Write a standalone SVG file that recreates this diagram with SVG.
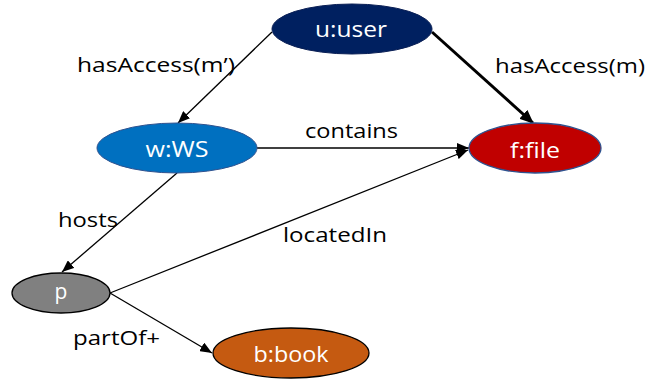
<svg xmlns="http://www.w3.org/2000/svg" width="647" height="379" viewBox="0 0 647 379">
<defs>
<marker id="ah" viewBox="0 0 12 10" refX="12" refY="5" markerWidth="12" markerHeight="10" markerUnits="userSpaceOnUse" orient="auto">
<path d="M0,0 L12,5 L0,10 Z" fill="#000"/>
</marker>
<marker id="ahb" viewBox="0 0 14 12" refX="13" refY="6" markerWidth="14" markerHeight="12" markerUnits="userSpaceOnUse" orient="auto">
<path d="M0,0 L14,6 L0,12 Z" fill="#000"/>
</marker>
</defs>
<style>
.edge{stroke:#000;stroke-width:1.3;fill:none;marker-end:url(#ah)}
.thick{stroke:#000;stroke-width:3;fill:none;marker-end:url(#ahb)}
.nl{font-family:"Open Sans","Liberation Sans",sans-serif;font-size:21px;fill:#fff;text-anchor:middle}
.el{font-family:"Open Sans","Liberation Sans",sans-serif;font-size:20px;fill:#000}
</style>
<rect width="647" height="379" fill="#fff"/>
<g id="connectors">
<line class="edge" x1="272" y1="32" x2="178" y2="123"/>
<line class="thick" x1="432" y1="32" x2="533" y2="123"/>
<line class="edge" x1="257" y1="148" x2="469" y2="148"/>
<line class="edge" x1="177" y1="173" x2="62" y2="272"/>
<line class="edge" x1="110" y1="293" x2="468" y2="150"/>
<line class="edge" x1="110" y1="293" x2="212" y2="353"/>
<text class="el" x="77" y="72" textLength="158" lengthAdjust="spacingAndGlyphs">hasAccess(m’)</text>
<text class="el" x="495" y="73" textLength="150" lengthAdjust="spacingAndGlyphs">hasAccess(m)</text>
<text class="el" x="305" y="138" textLength="93" lengthAdjust="spacingAndGlyphs">contains</text>
<text class="el" x="58" y="227" textLength="60" lengthAdjust="spacingAndGlyphs">hosts</text>
<text class="el" x="283" y="242" textLength="104" lengthAdjust="spacingAndGlyphs">locatedIn</text>
<text class="el" x="73" y="345" textLength="87" lengthAdjust="spacingAndGlyphs">partOf+</text>
</g>
<g id="user">
<ellipse cx="352" cy="29" rx="80" ry="25" fill="#002060" stroke="#0a1f55" stroke-width="1"/>
<text class="nl" x="351" y="37" textLength="72" lengthAdjust="spacingAndGlyphs">u:user</text>
</g>
<g id="ws">
<ellipse cx="177" cy="148" rx="80" ry="25" fill="#0070C0" stroke="#2F528F" stroke-width="1"/>
<text class="nl" x="177" y="157" textLength="63" lengthAdjust="spacingAndGlyphs">w:WS</text>
</g>
<g id="file">
<ellipse cx="535" cy="148" rx="66" ry="25" fill="#C00000" stroke="#2F528F" stroke-width="1.3"/>
<text class="nl" x="535" y="158" textLength="50" lengthAdjust="spacingAndGlyphs">f:file</text>
</g>
<g id="p">
<ellipse cx="61" cy="293" rx="49" ry="20" fill="#808080" stroke="#000" stroke-width="1.3"/>
<text class="nl" x="61" y="299">p</text>
</g>
<g id="book">
<ellipse cx="291" cy="353" rx="78" ry="25" fill="#C55A11" stroke="#000" stroke-width="1.3"/>
<text class="nl" x="291" y="362" textLength="75" lengthAdjust="spacingAndGlyphs">b:book</text>
</g>
</svg>
